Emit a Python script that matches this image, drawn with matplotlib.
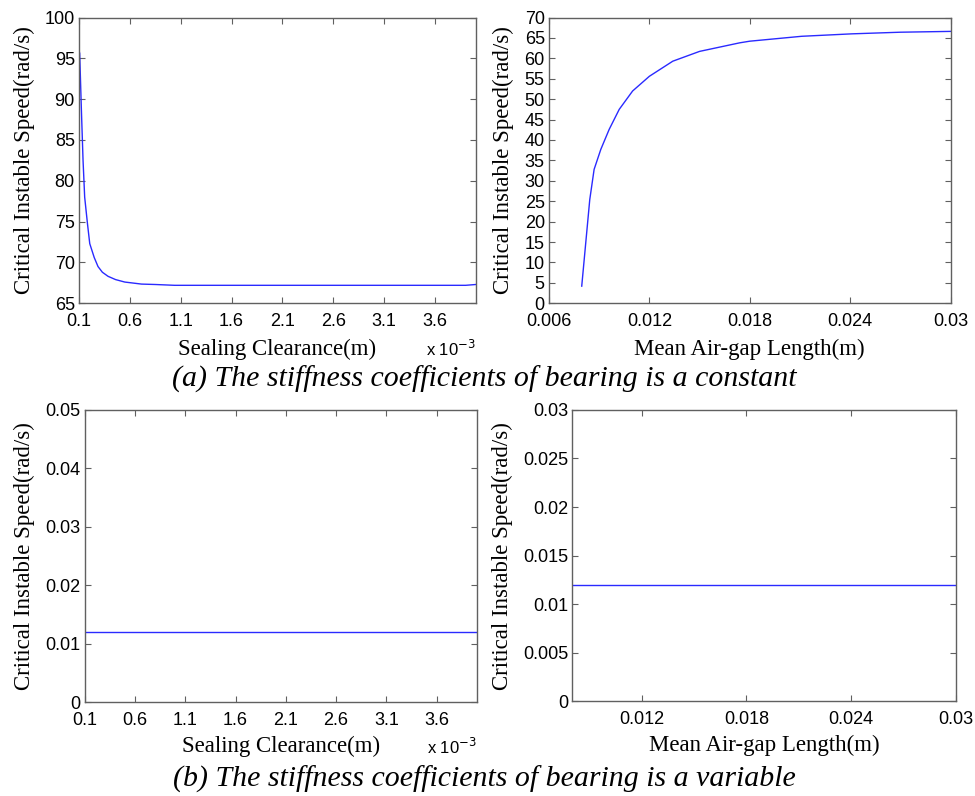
import numpy as np
import matplotlib
matplotlib.use("Agg")
import matplotlib.pyplot as plt

# (a) top-left: sealing clearance (x1e-3 m) vs critical speed
seal_x = [0.100, 0.107, 0.124, 0.140, 0.156, 0.183, 0.206, 0.25, 0.287, 0.33, 0.386, 0.46, 0.55, 0.715, 0.85, 1.04, 1.5, 2.0, 3.0, 3.9, 4.0]
seal_y = [96.0, 95.6, 88.6, 82.5, 78.0, 74.8, 72.3, 70.6, 69.5, 68.8, 68.3, 67.9, 67.6, 67.35, 67.3, 67.2, 67.2, 67.2, 67.2, 67.2, 67.3]

# (a) top-right: mean air-gap length (m) vs critical speed
gap_x = [0.00796, 0.0082, 0.00844, 0.0087, 0.0091, 0.0096, 0.0102, 0.0110, 0.0120, 0.0134, 0.0150, 0.0174, 0.0180, 0.0211, 0.0241, 0.0270, 0.0300]
gap_y = [4.2, 14.8, 25.4, 32.8, 37.7, 42.6, 47.5, 52.0, 55.6, 59.3, 61.7, 63.8, 64.2, 65.4, 66.0, 66.4, 66.6]

# (b) constant critical speed
var_seal_x = [0.10, 4.00]
var_seal_y = [0.012, 0.012]
var_gap_x = [0.008, 0.030]
var_gap_y = [0.012, 0.012]

seal_ticks = [0.1, 0.6, 1.1, 1.6, 2.1, 2.6, 3.1, 3.6]
seal_labels = ['0.1', '0.6', '1.1', '1.6', '2.1', '2.6', '3.1', '3.6']
gap_ticks_a = [0.006, 0.012, 0.018, 0.024, 0.030]
gap_labels_a = ['0.006', '0.012', '0.018', '0.024', '0.03']
gap_ticks_b = [0.012, 0.018, 0.024, 0.030]
gap_labels_b = ['0.012', '0.018', '0.024', '0.03']

ylabel = 'Critical Instable Speed(rad/s)'
serif = 'Liberation Serif'
sans = 'Liberation Sans'
line_color = '#2a2aff'

fig = plt.figure(figsize=(9.75, 7.96), dpi=100)


def style(ax, xlab, ylab_x, xlab_y):
    for s in ax.spines.values():
        s.set_color('#606060')
        s.set_linewidth(1.0)
    ax.tick_params(direction='in', top=True, right=True, length=4,
                   color='#606060', labelsize=13)
    ax.tick_params(axis='x', pad=7)
    ax.tick_params(axis='y', pad=3)
    for lab in ax.get_xticklabels() + ax.get_yticklabels():
        lab.set_family(sans)
    ax.set_xlabel(xlab, family=serif, fontsize=16.5)
    ax.set_ylabel(ylabel, family=serif, fontsize=16.5)
    ax.yaxis.set_label_coords(ylab_x, 0.5)
    ax.xaxis.set_label_coords(0.5, xlab_y)


ax1 = fig.add_axes([0.081, 0.619, 0.407, 0.359])
ax1.plot(seal_x, seal_y, color=line_color, lw=1.0)
ax1.set_xlim(0.1, 4.0)
ax1.set_ylim(65, 100)
ax1.set_xticks(seal_ticks)
ax1.set_xticklabels(seal_labels)
ax1.set_yticks(np.arange(65, 101, 5))
style(ax1, 'Sealing Clearance(m)', -0.11, -0.124)
ax1.text(1.0, -0.125, r'x 10$^{-3}$', transform=ax1.transAxes, ha='right', va='top',
         family=sans, fontsize=12)

ax2 = fig.add_axes([0.563, 0.619, 0.412, 0.359])
ax2.plot(gap_x, gap_y, color=line_color, lw=1.0)
ax2.set_xlim(0.006, 0.030)
ax2.set_ylim(0, 70)
ax2.set_xticks(gap_ticks_a)
ax2.set_xticklabels(gap_labels_a)
ax2.set_yticks(np.arange(0, 71, 5))
style(ax2, 'Mean Air-gap Length(m)', -0.086, -0.124)

ax3 = fig.add_axes([0.087, 0.118, 0.402, 0.367])
ax3.plot(var_seal_x, var_seal_y, color=line_color, lw=1.0)
ax3.set_xlim(0.1, 4.0)
ax3.set_ylim(0, 0.05)
ax3.set_xticks(seal_ticks)
ax3.set_xticklabels(seal_labels)
ax3.set_yticks([0, 0.01, 0.02, 0.03, 0.04, 0.05])
ax3.set_yticklabels(['0', '0.01', '0.02', '0.03', '0.04', '0.05'])
style(ax3, 'Sealing Clearance(m)', -0.127, -0.115)
ax3.text(1.0, -0.12, r'x 10$^{-3}$', transform=ax3.transAxes, ha='right', va='top',
         family=sans, fontsize=12)

ax4 = fig.add_axes([0.587, 0.119, 0.393, 0.366])
ax4.plot(var_gap_x, var_gap_y, color=line_color, lw=1.0)
ax4.set_xlim(0.008, 0.030)
ax4.set_ylim(0, 0.03)
ax4.set_xticks(gap_ticks_b)
ax4.set_xticklabels(gap_labels_b)
ax4.set_yticks([0, 0.005, 0.01, 0.015, 0.02, 0.025, 0.03])
ax4.set_yticklabels(['0', '0.005', '0.01', '0.015', '0.02', '0.025', '0.03'])
style(ax4, 'Mean Air-gap Length(m)', -0.155, -0.115)

fig.text(0.497, 0.523, '(a) The stiffness coefficients of bearing is a constant',
         family=serif, style='italic', fontsize=21.5, ha='center', va='center')
fig.text(0.497, 0.021, '(b) The stiffness coefficients of bearing is a variable',
         family=serif, style='italic', fontsize=21.5, ha='center', va='center')

fig.savefig('out.png', dpi=100)
